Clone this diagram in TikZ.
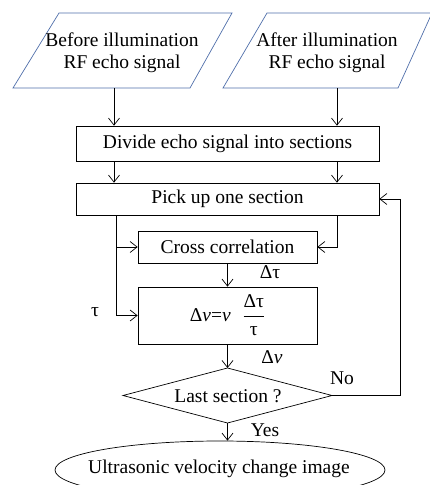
\documentclass[tikz,border=0pt]{standalone}
\usepackage{fontspec}
\setmainfont{Liberation Serif}
\usetikzlibrary{arrows.meta,shapes.geometric}
\definecolor{pblue}{RGB}{79,110,170}
\begin{document}
\begin{tikzpicture}[x=1pt,y=-1pt,
  every node/.style={font=\fontsize{19.5}{22}\selectfont},
  box/.style={draw,line width=0.7pt,inner sep=0pt,align=center},
  conn/.style={line width=0.7pt,-{Straight Barb[length=7pt,width=11pt,line width=0.7pt]}},
  pline/.style={draw=pblue,line width=0.7pt},
  lbl/.style={inner sep=0pt}]
\useasboundingbox (0,0) rectangle (430,485);
\clip (0,0) rectangle (430,485);
% parallelograms
\path[pline] (59,13) -- (232,13) -- (190,88) -- (13,88) -- cycle;
\path[pline] (267,13) -- (432,13) -- (398,88) -- (223,88) -- cycle;
\node[align=center,lbl] (p1) at (122,53) {Before illumination\\RF echo signal};
\node[align=center,lbl] (p2) at (327,53) {After illumination\\RF echo signal};
\coordinate (p1b) at (114,88);
\coordinate (p2b) at (337,88);
% boxes
\node[box,minimum width=303pt,minimum height=35pt] (div) at (227.5,143.5) {Divide echo signal into sections};
\node[box,minimum width=303pt,minimum height=32pt] (pick) at (227.5,199) {Pick up one section};
\node[box,minimum width=179pt,minimum height=32pt] (cross) at (227.5,247) {Cross correlation};
\node[box,minimum width=179pt,minimum height=57pt] (form) at (227.5,315.5)
  {Δ\textit{ν}=\textit{ν}\hspace{0.6em}$\displaystyle\frac{\hbox{Δτ}}{\hbox{τ}}$};
% diamond
\coordinate (dt) at (227.5,368);
\coordinate (dr) at (332,395.5);
\coordinate (db) at (227.5,423);
\coordinate (dl) at (123,395.5);
\draw[line width=0.7pt] (dt) -- (dr) -- (db) -- (dl) -- cycle;
\node[lbl] (last) at (228,396) {Last section ?};
% ellipse
\node[draw,ellipse,line width=0.7pt,minimum width=330pt,minimum height=58pt,inner sep=0pt] (ell) at (220,470) {};
\node[lbl] (elltext) at (219,469) {Ultrasonic velocity change image};
% connectors
\draw[conn] (p1b) -- (p1b |- div.north);
\draw[conn] (p2b) -- (p2b |- div.north);
\draw[conn] (div.south -| p1b) -- (pick.north -| p1b);
\draw[conn] (div.south -| p2b) -- (pick.north -| p2b);
\coordinate (lx) at (116,0);
\draw[conn] (pick.south -| lx) |- (cross.west);
\draw[conn] (pick.south -| lx) |- (form.west);
\draw[conn] (pick.south -| p2b) |- (cross.east);
\draw[conn] (cross.south) -- (form.north);
\draw[conn] (form.south) -- (dt);
\draw[conn] (dr) -- ++(68,0) |- (pick.east);
\draw[conn] (db) -- (db |- ell.north);
% labels
\node[lbl] (ldt) at (270,272) {Δτ};
\node[lbl] (ldv) at (272,357) {Δ\textit{ν}};
\node[lbl] (ltau) at (95,312) {τ};
\node[lbl] (lno) at (342,378) {No};
\node[lbl] (lyes) at (265,430) {Yes};
\end{tikzpicture}
\end{document}
